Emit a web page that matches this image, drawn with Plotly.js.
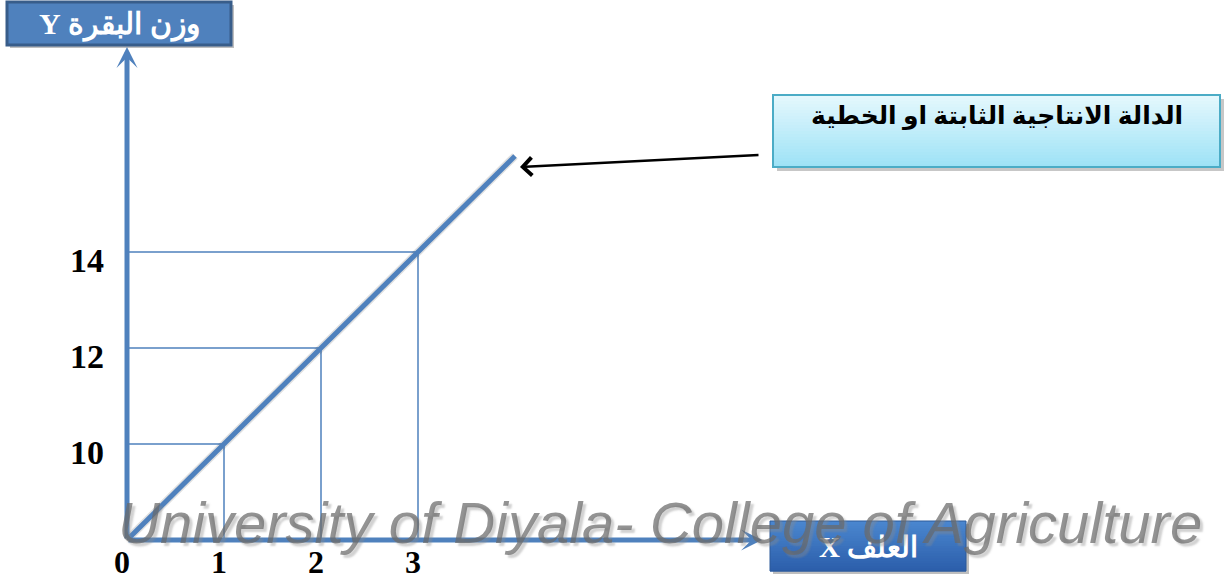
<!DOCTYPE html>
<html>
<head>
<meta charset="utf-8">
<script src="https://cdn.plot.ly/plotly-3.0.1.min.js"></script>
<style>html,body{margin:0;padding:0;background:#fff;}#chart{width:1225px;height:583px;}</style>
</head>
<body>
<div id="chart"></div>
<script>
// ---- data ----
const feed = [1, 2, 3];                 // العلف X
const weight = [10, 12, 14];            // وزن البقرة Y
const lineX = [0, 1, 2, 3, 4];          // linear production function
const lineY = [8, 10, 12, 14, 16];
const xTickVals = [0, 1, 2, 3];
const xTickText = ['0', '1', '2', '3'];
const yTickVals = [10, 12, 14];
const yTickText = ['10', '12', '14'];
const yTitle = 'وزن البقرة Y';
const xTitle = 'العلف X';
const curveLabel = 'الدالة الانتاجية الثابتة او الخطية';
const watermark = 'University of Diyala- College of Agriculture';

// ---- geometry helpers (pixel -> paper) ----
const L = 127, R = 767, T = 46, B = 540;
const xMin = 0, yMin = 8;
const pxPerX = 97, pxPerY = 48;
function px(x) { return (x - L) / (R - L); }
function py(y) { return (B - y) / (B - T); }
function dx(p) { return xMin + (p - L) / pxPerX; }
function dy(p) { return yMin + (B - p) / pxPerY; }
function rtl(s) { return '\u202B' + s + '\u202C'; }

const blue = '#4f81bd';

// guide lines built from data
const gx = [], gy = [];
for (let i = 0; i < feed.length; i++) {
  gx.push(0, feed[i], feed[i], null);
  gy.push(weight[i], weight[i], yMin, null);
}

const traces = [
  {x: gx, y: gy, mode: 'lines', line: {color: blue, width: 1.5}, hoverinfo: 'skip', showlegend: false},
  {x: lineX, y: lineY, mode: 'lines', line: {color: 'rgba(0,0,0,0.12)', width: 8}, hoverinfo: 'skip', showlegend: false},
  {x: lineX, y: lineY, mode: 'lines', line: {color: blue, width: 5}, hoverinfo: 'skip', showlegend: false}
];

function rect(x0, y0, x1, y1, fill, line, lw, layer) {
  return {type: 'rect', xref: 'paper', yref: 'paper', x0: px(x0), x1: px(x1), y0: py(y1), y1: py(y0),
          fillcolor: fill, line: {color: line || 'rgba(0,0,0,0)', width: lw || 0}, layer: layer || 'above'};
}
function hex(c) { return [parseInt(c.substr(1,2),16), parseInt(c.substr(3,2),16), parseInt(c.substr(5,2),16)]; }
function gradient(x0, y0, x1, y1, cTop, cBot, n) {
  const a = hex(cTop), b = hex(cBot), out = [];
  const h = (y1 - y0) / n;
  for (let i = 0; i < n; i++) {
    const t = i / (n - 1);
    const c = 'rgb(' + a.map((v, k) => Math.round(v + (b[k] - v) * t)).join(',') + ')';
    out.push(rect(x0, y0 + i * h, x1, y0 + (i + 1) * h + 0.6, c));
  }
  return out;
}

const shapes = [];
// Y title box
shapes.push(rect(10, 5, 234, 48, 'rgba(0,0,0,0.25)'));
shapes.push(rect(7, 2, 231, 45, blue, '#385d8a', 3));
// curve label box
shapes.push(rect(777, 99, 1224, 171, 'rgba(0,0,0,0.22)'));
shapes.push(...gradient(773, 95, 1220, 167, '#e4f8fd', '#9ee2f6', 24));
shapes.push(rect(773, 95, 1220, 167, 'rgba(0,0,0,0)', '#4bacc6', 2));
// X title box
shapes.push(rect(773, 524, 969, 574, 'rgba(0,0,0,0.25)'));
shapes.push(...gradient(770, 521, 966, 571, '#4a86cf', '#2c5fab', 20));
shapes.push(rect(770, 521, 966, 571, 'rgba(0,0,0,0)', '#2c5a9a', 1));

function label(x, y, text, font) {
  return {x: px(x), y: py(y), xref: 'paper', yref: 'paper', xanchor: 'center', yanchor: 'middle',
          text: text, showarrow: false, font: font};
}

const annotations = [
  // axes as arrows
  {x: 0, y: dy(47), xref: 'x', yref: 'y', ax: 0, ay: yMin, axref: 'x', ayref: 'y', text: '',
   showarrow: true, arrowhead: 3, arrowsize: 0.7, arrowwidth: 5, arrowcolor: blue},
  {x: dx(762), y: yMin, xref: 'x', yref: 'y', ax: 0, ay: yMin, axref: 'x', ayref: 'y', text: '',
   showarrow: true, arrowhead: 3, arrowsize: 0.7, arrowwidth: 5, arrowcolor: blue},
  // pointer to line
  {x: dx(520), y: dy(167), xref: 'x', yref: 'y', ax: 240, ay: -12, text: '',
   showarrow: true, arrowhead: 4, arrowsize: 1.4, arrowwidth: 2.5, arrowcolor: '#000'},
  // titles
  label(119, 25, '<b>' + rtl(yTitle) + '</b>', {family: 'Liberation Serif, DejaVu Serif, serif', size: 30, color: '#fff'}),
  label(997, 116, '<b>' + rtl(curveLabel) + '</b>', {family: 'Liberation Serif, DejaVu Sans, serif', size: 25, color: '#000'}),
  label(868, 547, '<b>' + rtl(xTitle) + '</b>', {family: 'Liberation Serif, DejaVu Serif, serif', size: 29, color: '#fff'}),
  // watermark
  label(660, 522, watermark, {family: 'Liberation Sans, Arial, sans-serif', size: 58, style: 'italic',
        color: 'rgba(105,105,105,0.72)', shadow: '3px 3px 2px rgba(140,140,140,0.55)'})
];

const layout = {
  width: 1225, height: 583,
  margin: {l: L, r: 1225 - R, t: T, b: 583 - B, pad: 0},
  paper_bgcolor: '#fff', plot_bgcolor: '#fff',
  showlegend: false,
  xaxis: {range: [xMin, xMin + (R - L) / pxPerX], showgrid: false, zeroline: false, showline: false,
          tickvals: xTickVals, ticktext: xTickText.map(t => '<b>' + t + '</b>'), ticks: '',
          ticklabelstandoff: 0, ticklabelshift: -5,
          tickfont: {family: 'Liberation Serif, Times New Roman, serif', size: 32, color: '#000'}, fixedrange: true},
  yaxis: {range: [yMin, yMin + (B - T) / pxPerY], showgrid: false, zeroline: false, showline: false,
          tickvals: yTickVals, ticktext: yTickText.map(t => '<b>' + t + '</b>'), ticks: '',
          ticklabelstandoff: 22, ticklabelshift: 8,
          tickfont: {family: 'Liberation Serif, Times New Roman, serif', size: 34, color: '#000'}, fixedrange: true},
  shapes: shapes,
  annotations: annotations
};

Plotly.newPlot('chart', traces, layout, {displayModeBar: false, staticPlot: true});
</script>
</body>
</html>
